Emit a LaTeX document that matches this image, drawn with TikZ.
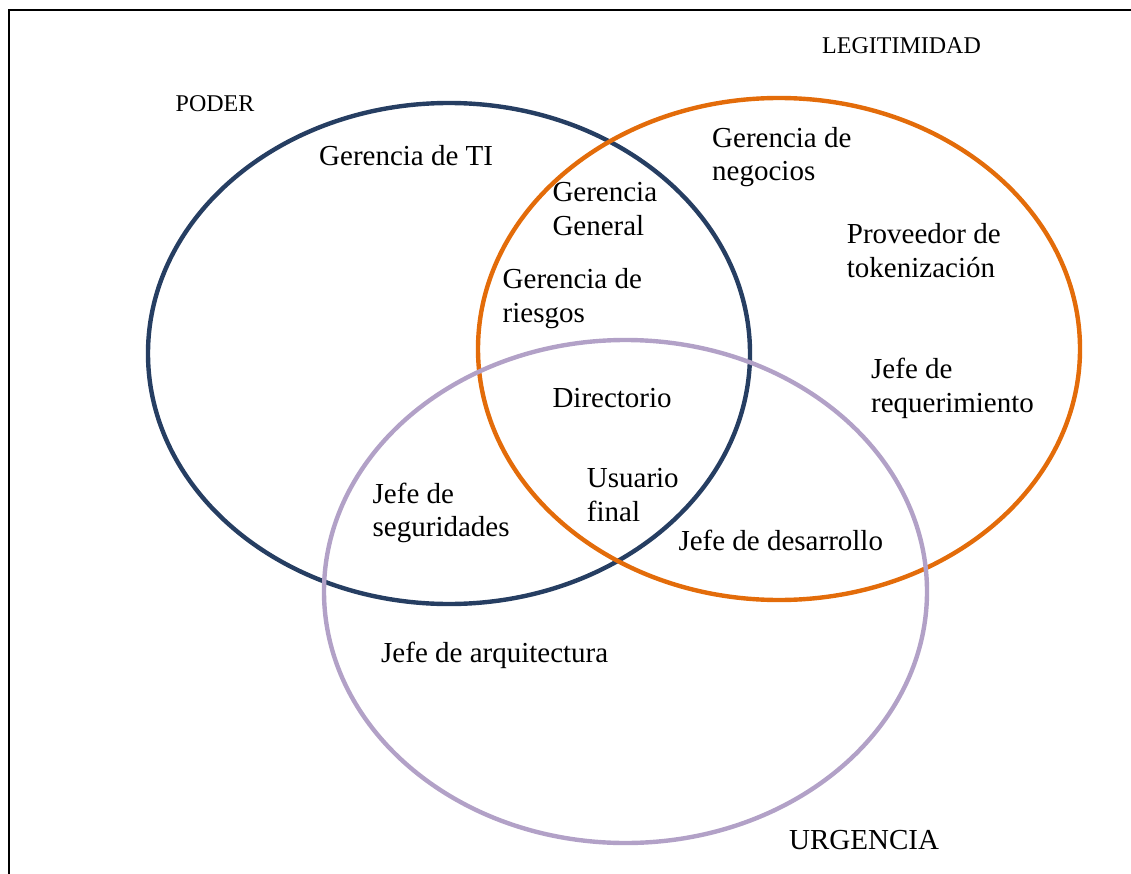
\documentclass[tikz,border=0pt]{standalone}
\usepackage{fontspec}
\setmainfont{Liberation Serif}
\definecolor{poderblue}{RGB}{38,62,98}
\definecolor{legorange}{RGB}{227,108,10}
\definecolor{urgpurple}{RGB}{178,161,199}
\begin{document}
\begin{tikzpicture}[x=1pt,y=-1pt,
  ring/.style={line width=4.4pt},
  lbl/.style={anchor=base west,inner sep=0pt,align=left,font=\fontsize{29}{33.6}\selectfont},
  title/.style={anchor=base west,inner sep=0pt,font=\fontsize{24}{28}\selectfont}]
\useasboundingbox (0,0) rectangle (1131,874);
% frame (top and left edges)
\coordinate (ftl) at (9,10);
\coordinate (ftr) at (1131,10);
\coordinate (fbl) at (9,874);
\draw[line width=2.4pt] (fbl) -- (ftl) -- (ftr);
% circles
\coordinate (cpoder) at (449,353.5);
\coordinate (cleg) at (779,349);
\coordinate (curg) at (625.5,591.5);
\draw[poderblue,ring] (cpoder) ellipse[x radius=301,y radius=250.5];
\draw[legorange,ring] (cleg) ellipse[x radius=301,y radius=251];
\draw[urgpurple,ring] (curg) ellipse[x radius=301.5,y radius=251.5];
% titles
\node[title] (tpoder) at (175.5,111.5) {PODER};
\node[title] (tleg) at (822,53.3) {LEGITIMIDAD};
\node[lbl] (turg) at (789,849.3) {URGENCIA};
% labels (base anchor = baseline of last line)
\node[lbl] (gti) at (319,166) {Gerencia de TI};
\node[lbl] (gneg) at (712,180.8) {Gerencia de\\negocios};
\node[lbl] (ggen) at (552.3,235.2) {Gerencia\\General};
\node[lbl] (prov) at (846.7,277.2) {Proveedor de\\tokenizaci\'on};
\node[lbl] (gries) at (502.5,322.4) {Gerencia de\\riesgos};
\node[lbl] (jreq) at (871,412.3) {Jefe de\\requerimiento};
\node[lbl] (dir) at (552.3,407.7) {Directorio};
\node[lbl] (usu) at (586.7,521.2) {Usuario\\final};
\node[lbl] (jseg) at (372.5,536.8) {Jefe de\\seguridades};
\node[lbl] (jdes) at (678.3,550) {Jefe de desarrollo};
\node[lbl] (jarq) at (381,662) {Jefe de arquitectura};
\end{tikzpicture}
\end{document}
